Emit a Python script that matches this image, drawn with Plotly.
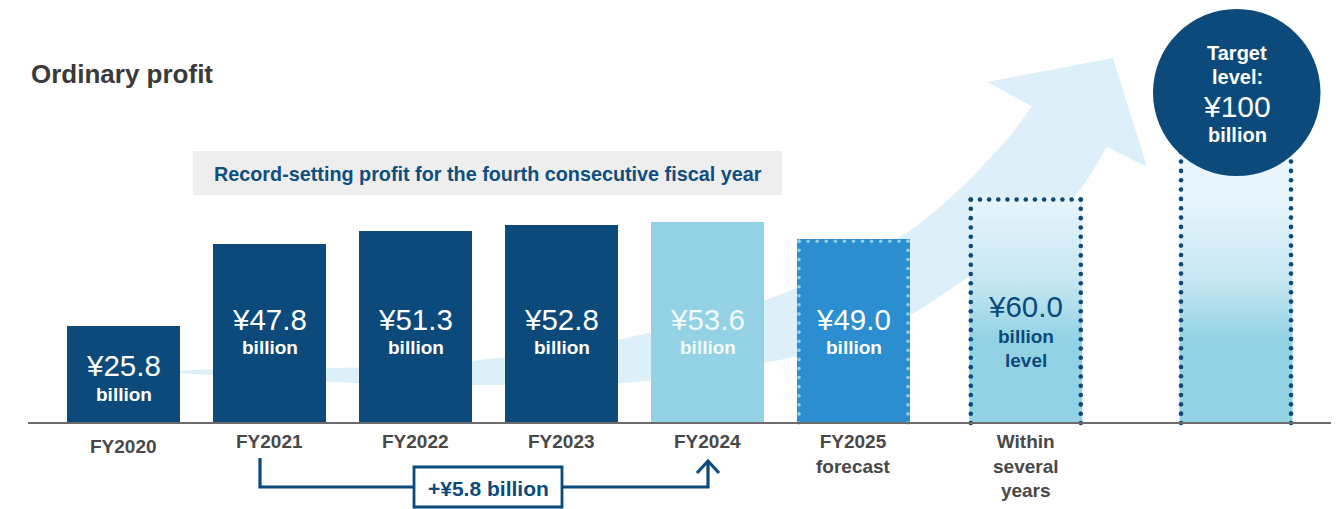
import numpy as np
import plotly.graph_objects as go

# ---------------- data ----------------
categories = ["FY2020", "FY2021", "FY2022", "FY2023", "FY2024",
              "FY2025<br>forecast", "Within<br>several<br>years", ""]
profit = [25.8, 47.8, 51.3, 52.8, 53.6, 49.0, 60.0, 100.0]   # ¥ billion
unit_text = "billion"
title_text = "Ordinary profit"
banner_text = "Record-setting profit for the fourth consecutive fiscal year"

# ---------------- layout helpers ----------------
W, H = 1341, 509
slots = [0, 1, 2, 3, 4, 5, 6.18, 7.62]        # horizontal slot of each column
BAR_W = 0.774
X0_PX, X_UNIT = 123.5, 146.0                   # pixel of slot 0, pixels per slot
BASE_PX, Y_UNIT = 423.0, 3.75                  # baseline pixel, pixels per ¥1bn


def xd(px):
    return (px - X0_PX) / X_UNIT


def yd(py):
    return (BASE_PX - py) / Y_UNIT


NAVY = "#0B4A7A"
LIGHT = "#92D2E4"
MID = "#2A8ED0"
PALE = "#E8F5FD"
ARROW = "#DDEFF9"
FONT = "Liberation Sans, Arial, sans-serif"

fig = go.Figure()

# ---------------- solid bars (actuals + forecast) ----------------
bar_colors = [NAVY, NAVY, NAVY, NAVY, LIGHT, MID]
fig.add_trace(go.Bar(
    x=slots[:6], y=profit[:6], width=BAR_W,
    marker=dict(color=bar_colors, line=dict(width=0)),
    hoverinfo="skip", showlegend=False,
))

# ---------------- gradient bars (mid-term and target) ----------------
for s, v in zip(slots[6:], profit[6:]):
    xl, xr = s - BAR_W / 2, s + BAR_W / 2
    fig.add_trace(go.Scatter(
        x=[xl, xr, xr, xl, xl], y=[0, 0, v, v, 0],
        mode="lines", line=dict(width=0), fill="toself",
        fillgradient=dict(type="vertical", start=0, stop=60,
                          colorscale=[[0, LIGHT], [0.37, LIGHT], [0.62, "#C4E6F2"], [1, PALE]]),
        hoverinfo="skip", showlegend=False,
    ))


# ---------------- dotted frames ----------------
def dotted_frame(s, v, color, size, inset_px, step_px=9.3):
    xl_px = X0_PX + (s - BAR_W / 2) * X_UNIT + inset_px
    xr_px = X0_PX + (s + BAR_W / 2) * X_UNIT - inset_px
    top_px = BASE_PX - v * Y_UNIT + inset_px
    n_top = int(round((xr_px - xl_px) / step_px)) + 1
    n_side = int(round((BASE_PX - top_px) / step_px)) + 1
    top_x = np.linspace(xl_px, xr_px, n_top)
    side_y = np.linspace(top_px, BASE_PX, n_side)
    px = np.concatenate([top_x, np.full(n_side, xl_px), np.full(n_side, xr_px)])
    py = np.concatenate([np.full(n_top, top_px), side_y, side_y])
    fig.add_trace(go.Scatter(
        x=xd(px), y=yd(py), mode="markers",
        marker=dict(color=color, size=size, line=dict(width=0)),
        hoverinfo="skip", showlegend=False, cliponaxis=False,
    ))


dotted_frame(slots[5], profit[5], "#8FCFEA", 3.6, 2.0)
dotted_frame(slots[6], profit[6], NAVY, 4.6, 1.5)
dotted_frame(slots[7], profit[7], NAVY, 4.6, 1.5)


# ---------------- rising arrow behind the bars ----------------
def catmull(points):
    """Smooth SVG cubic path through points (Catmull-Rom)."""
    pts = [(xd(a), yd(b)) for a, b in points]
    d = ""
    for i in range(len(pts) - 1):
        p0 = pts[i - 1] if i > 0 else pts[i]
        p1, p2 = pts[i], pts[i + 1]
        p3 = pts[i + 2] if i + 2 < len(pts) else p2
        c1 = (p1[0] + (p2[0] - p0[0]) / 6, p1[1] + (p2[1] - p0[1]) / 6)
        c2 = (p2[0] - (p3[0] - p1[0]) / 6, p2[1] - (p3[1] - p1[1]) / 6)
        d += f" C {c1[0]:.4f},{c1[1]:.4f} {c2[0]:.4f},{c2[1]:.4f} {p2[0]:.4f},{p2[1]:.4f}"
    return d


top_edge = [(150, 372), (212, 369.5), (358, 367.5), (471, 361), (617, 340), (763, 301),
            (850, 262), (912, 229), (960, 189), (990, 158), (1014, 131), (1032, 106)]
head = [(987, 82), (1113, 58), (1147, 167), (1107, 147)]
bottom_edge = [(1107, 147), (1075, 196), (1030, 236), (968, 277), (912, 314), (850, 340),
               (798, 356), (763, 363), (700, 374), (617, 383), (471, 385), (358, 383),
               (212, 375), (150, 372)]
path = f"M {xd(top_edge[0][0]):.4f},{yd(top_edge[0][1]):.4f}" + catmull(top_edge)
for a, b in head:
    path += f" L {xd(a):.4f},{yd(b):.4f}"
path += catmull(bottom_edge) + " Z"

shapes = [
    dict(type="path", path=path, xref="x", yref="y", fillcolor=ARROW,
         line=dict(width=0), layer="below"),
    # banner
    dict(type="rect", xref="x", yref="y", x0=xd(193), x1=xd(782), y0=yd(195), y1=yd(151),
         fillcolor="#EEEEEE", line=dict(width=0), layer="below"),
    # baseline
    dict(type="line", xref="x", yref="y", x0=xd(28), x1=xd(1331), y0=0, y1=0,
         line=dict(color="#6B6B6B", width=2), layer="above"),
    # target circle
    dict(type="circle", xref="x", yref="y", x0=xd(1153), x1=xd(1320.5), y0=yd(176), y1=yd(9),
         fillcolor=NAVY, line=dict(width=0), layer="above"),
    # FY2021 -> FY2024 bracket
    dict(type="path", xref="x", yref="y",
         path=(f"M {xd(260):.4f},{yd(458):.4f} L {xd(260):.4f},{yd(487):.4f} "
               f"L {xd(708):.4f},{yd(487):.4f} L {xd(708):.4f},{yd(461):.4f}"),
         line=dict(color=NAVY, width=3.2), layer="above"),
    dict(type="path", xref="x", yref="y",
         path=(f"M {xd(697):.4f},{yd(473):.4f} L {xd(708):.4f},{yd(461):.4f} "
               f"L {xd(719):.4f},{yd(473):.4f}"),
         line=dict(color=NAVY, width=3.2), layer="above"),
    dict(type="rect", xref="x", yref="y", x0=xd(414), x1=xd(562), y0=yd(507), y1=yd(467),
         fillcolor="white", line=dict(color=NAVY, width=2.8), layer="above"),
]

annotations = []


def note(text, xpx_or_x, ypx, size, color, bold=False, data_x=True, xanchor="center",
         yanchor="middle"):
    annotations.append(dict(
        text=f"<b>{text}</b>" if bold else text,
        x=xpx_or_x if data_x else xd(xpx_or_x), y=yd(ypx), xref="x", yref="y",
        showarrow=False, xanchor=xanchor, yanchor=yanchor,
        font=dict(family=FONT, size=size, color=color),
    ))


# title and banner
note(title_text, 29, 74, 26, "#3A3A3A", bold=True, data_x=False, xanchor="left")
note(banner_text, 487.5, 174, 19.8, "#104E7E", bold=True, data_x=False)

# value labels inside the bars
value_y_px = [365, 319, 319, 319, 319, 319, 306]
unit_y_px = [394, 347, 347, 347, 347, 347, 336]
label_colors = ["white", "white", "white", "white", "#F2FAFC", "white", NAVY]
for i in range(7):
    note(f"¥{profit[i]:.1f}", slots[i], value_y_px[i], 29.5, label_colors[i])
    note(unit_text, slots[i], unit_y_px[i], 19, label_colors[i], bold=True)
note("level", slots[6], 360, 19, NAVY, bold=True)

# target circle text
note("Target", 1237, 53, 20, "white", bold=True, data_x=False)
note("level:", 1237, 77, 20, "white", bold=True, data_x=False)
note(f"¥{profit[7]:.0f}", 1237, 106, 30, "white", data_x=False)
note(unit_text, 1237, 135, 20, "white", bold=True, data_x=False)

# category labels under the baseline
cat_top_px = [434, 429, 429, 429, 429, 429, 429, 429]
for s, c, t in zip(slots, categories, cat_top_px):
    if c:
        annotations.append(dict(
            text=f"<b>{c}</b>", x=s, y=yd(t), xref="x", yref="y",
            showarrow=False, xanchor="center", yanchor="top",
            font=dict(family=FONT, size=19, color="#484848"),
        ))

# FY2021 -> FY2024 increase
note(f"+¥{profit[4] - profit[1]:.1f} billion", 488, 488, 21, NAVY, bold=True, data_x=False)

fig.update_layout(
    width=W, height=H,
    margin=dict(l=0, r=0, t=0, b=0),
    paper_bgcolor="white", plot_bgcolor="white",
    xaxis=dict(range=[xd(0), xd(W)], visible=False, fixedrange=True),
    yaxis=dict(range=[yd(H), yd(0)], visible=False, fixedrange=True),
    shapes=shapes, annotations=annotations,
    showlegend=False, bargap=0,
)

fig.write_html("out.html", config={"displayModeBar": False})
